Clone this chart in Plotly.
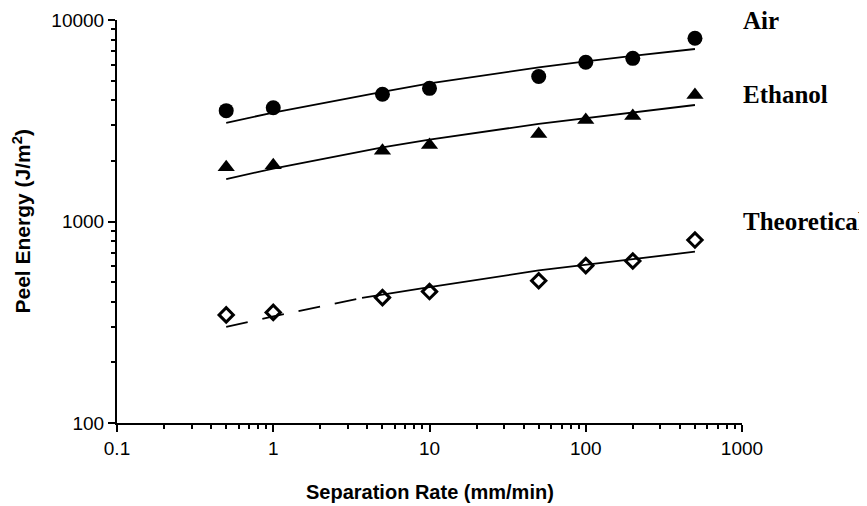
import plotly.graph_objects as go

# ---- data ----
rate = [0.5, 1, 5, 10, 50, 100, 200, 500]          # separation rate (mm/min)
air = [3550, 3670, 4280, 4580, 5240, 6170, 6450, 8120]
ethanol = [1860, 1900, 2245, 2400, 2720, 3190, 3340, 4250]
theoretical = [344, 354, 419, 449, 508, 604, 637, 809]

# fitted curves at the same rates
air_fit = [3090, 3470, 4400, 4850, 5820, 6240, 6630, 7180]
ethanol_fit = [1625, 1830, 2330, 2550, 3050, 3260, 3470, 3786]
theo_fit_rate_dash = [0.5, 1, 3.7]
theo_fit_dash = [300, 338, 418]
theo_fit_rate_solid = [3.7, 5, 10, 50, 100, 200, 500]
theo_fit_solid = [418, 434, 472, 572, 610, 650, 708]

series_names = ["Air", "Ethanol", "Theoretical"]
x_title = "Separation Rate (mm/min)"
y_title = "Peel Energy (J/m<sup>2</sup>)"
x_ticks = [0.1, 1, 10, 100, 1000]
x_tick_labels = ["0.1", "1", "10", "100", "1000"]
y_ticks = [100, 1000, 10000]
y_tick_labels = ["100", "1000", "10000"]

fig = go.Figure()

line_style = dict(color="black", width=1.8)
fig.add_trace(go.Scatter(x=rate, y=air_fit, mode="lines", line=line_style, showlegend=False, hoverinfo="skip"))
fig.add_trace(go.Scatter(x=rate, y=ethanol_fit, mode="lines", line=line_style, showlegend=False, hoverinfo="skip"))
fig.add_trace(go.Scatter(x=theo_fit_rate_dash, y=theo_fit_dash, mode="lines",
                         line=dict(color="black", width=1.8, dash="22px,15px"), showlegend=False, hoverinfo="skip"))
fig.add_trace(go.Scatter(x=theo_fit_rate_solid, y=theo_fit_solid, mode="lines", line=line_style,
                         showlegend=False, hoverinfo="skip"))

fig.add_trace(go.Scatter(x=rate, y=air, mode="markers", name=series_names[0],
                         marker=dict(symbol="circle", size=15, color="black"), showlegend=False))
fig.add_trace(go.Scatter(x=rate, y=ethanol, mode="markers", name=series_names[1],
                         marker=dict(symbol="triangle-up", size=15, color="black"), showlegend=False))
fig.add_trace(go.Scatter(x=rate, y=theoretical, mode="markers", name=series_names[2],
                         marker=dict(symbol="diamond-open", size=11, color="black",
                                     line=dict(width=3, color="black")), showlegend=False))

# series labels to the right of the plot
label_font = dict(family="Liberation Serif", size=25, color="black")
label_y = [1.0, 0.814, 0.501]
for name, ly in zip(series_names, label_y):
    fig.add_annotation(x=1.0, y=ly, xref="paper", yref="paper", text="<b>%s</b>" % name, showarrow=False,
                       xanchor="left", yanchor="middle", font=label_font, xshift=-1)

# axis titles
title_font_x = dict(family="Liberation Sans", size=20, color="black")
title_font_y = dict(family="Liberation Sans", size=21, color="black")
fig.add_annotation(x=0.5, y=-0.1705, xref="paper", yref="paper", text="<b>%s</b>" % x_title,
                   showarrow=False, xanchor="center", yanchor="middle", font=title_font_x)
fig.add_annotation(x=-0.1536, y=0.5, xref="paper", yref="paper", text="<b>%s</b>" % y_title,
                   showarrow=False, xanchor="center", yanchor="middle", textangle=-90, font=title_font_y)

axis_font = dict(family="Liberation Sans", size=19, color="black")
common = dict(showline=True, linecolor="black", linewidth=2, ticks="outside", ticklen=7,
              tickwidth=2, tickcolor="black", showgrid=False, zeroline=False, automargin=False,
              tickfont=axis_font,
              minor=dict(ticks="outside", ticklen=4, tickwidth=1.5, tickcolor="black",
                         dtick="D1", showgrid=False))
fig.update_xaxes(type="log", range=[-1, 3], tickvals=x_ticks, ticktext=x_tick_labels, **common)
fig.update_yaxes(type="log", range=[2, 4], tickvals=y_ticks, ticktext=y_tick_labels, **common)

# page body has an 8px margin; the figure is offset by it
fig.update_layout(width=859, height=498, plot_bgcolor="white", paper_bgcolor="white",
                  margin=dict(l=109, r=125, t=12, b=83), showlegend=False)

fig.write_html("out.html")
